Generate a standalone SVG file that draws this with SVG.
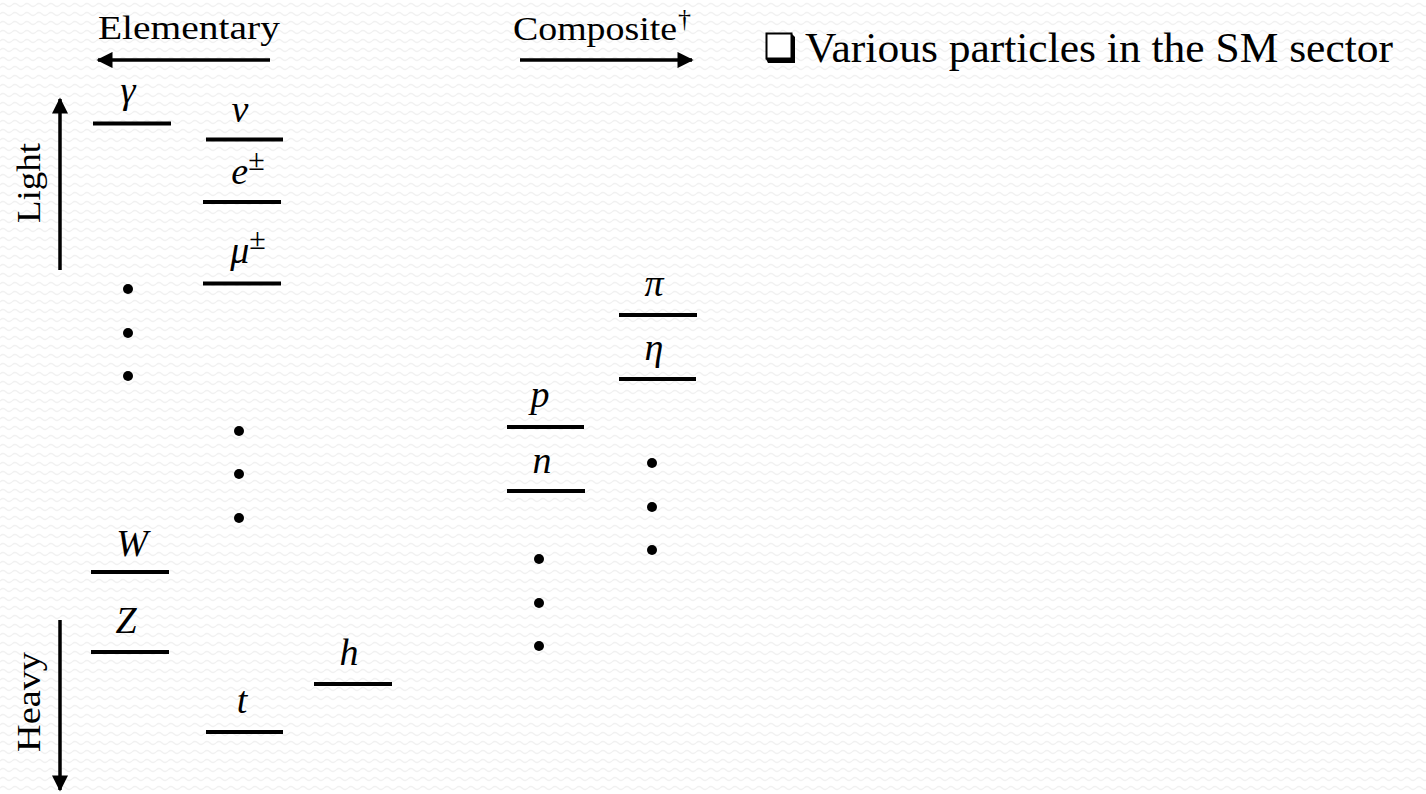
<svg xmlns="http://www.w3.org/2000/svg" width="1426" height="794" viewBox="0 0 1426 794">
<style>
.lbl{font-family:"Liberation Serif",serif;fill:#000}
.m{font-family:"Liberation Serif","DejaVu Serif",serif;font-style:italic;font-size:38px;fill:#000;text-anchor:middle}
.lvl{stroke:#000;stroke-width:4}
.ax{stroke:#000;stroke-width:3.5;fill:none}
</style>
<defs>
<pattern id="bg" width="12" height="9" patternUnits="userSpaceOnUse">
<rect width="12" height="9" fill="#ffffff"/>
<path d="M0 5 Q3 2 6 5 T12 5" fill="none" stroke="#f1f1f1" stroke-width="1.2"/>
</pattern>
<marker id="ah" viewBox="0 0 10 10" refX="9" refY="5" markerWidth="5" markerHeight="4.6" markerUnits="strokeWidth" orient="auto">
<path d="M0 0 L10 5 L0 10 Z" fill="#000"/>
</marker>
</defs>
<rect width="1426" height="794" fill="url(#bg)"/>

<g id="axes">
<g id="elementary">
<text class="lbl" x="98" y="39" font-size="34" textLength="182" lengthAdjust="spacingAndGlyphs">Elementary</text>
<line class="ax" x1="270" y1="60" x2="98" y2="60" marker-end="url(#ah)"/>
</g>
<g id="composite">
<text class="lbl" x="513" y="40" font-size="34" textLength="164" lengthAdjust="spacingAndGlyphs">Composite</text>
<text class="lbl" x="678" y="27" font-size="26">†</text>
<line class="ax" x1="520" y1="60" x2="692" y2="60" marker-end="url(#ah)"/>
</g>
<g id="light">
<text class="lbl" transform="translate(40,223) rotate(-90)" font-size="34" textLength="80" lengthAdjust="spacingAndGlyphs">Light</text>
<line class="ax" x1="60" y1="270" x2="60" y2="99" marker-end="url(#ah)"/>
</g>
<g id="heavy">
<text class="lbl" transform="translate(40,752) rotate(-90)" font-size="34" textLength="100" lengthAdjust="spacingAndGlyphs">Heavy</text>
<line class="ax" x1="60" y1="620" x2="60" y2="790" marker-end="url(#ah)"/>
</g>
</g>

<g id="title">
<rect x="766.5" y="33.5" width="25" height="25" fill="#fff" stroke="#000" stroke-width="2"/>
<path d="M766 59 L768 63 L795 63 L795 37 L791 33 L791 59 Z" fill="#000"/>
<text class="lbl" x="805" y="62" font-size="42" textLength="588" lengthAdjust="spacingAndGlyphs">Various particles in the SM sector</text>
</g>

<g id="gamma"><line class="lvl" x1="93" y1="123.5" x2="171" y2="123.5"/><text class="m" x="128" y="103">γ</text></g>
<g id="nu"><line class="lvl" x1="206" y1="139.5" x2="283" y2="139.5"/><text class="m" x="240" y="122">ν</text></g>
<g id="electron"><line class="lvl" x1="203" y1="202" x2="281" y2="202"/><text class="m" x="248" y="184">e<tspan font-style="normal" font-size="30" dy="-14">±</tspan></text></g>
<g id="muon"><line class="lvl" x1="203" y1="283.5" x2="281" y2="283.5"/><text class="m" x="248" y="263">μ<tspan font-style="normal" font-size="30" dy="-14">±</tspan></text></g>
<g id="W"><line class="lvl" x1="91" y1="572" x2="169" y2="572"/><text class="m" x="132" y="556">W</text></g>
<g id="Z"><line class="lvl" x1="91" y1="652" x2="169" y2="652"/><text class="m" x="126" y="633">Z</text></g>
<g id="h"><line class="lvl" x1="314" y1="684" x2="392" y2="684"/><text class="m" x="349" y="665">h</text></g>
<g id="t"><line class="lvl" x1="206" y1="732" x2="283" y2="732"/><text class="m" x="242" y="713">t</text></g>
<g id="pi"><line class="lvl" x1="619" y1="315" x2="697" y2="315"/><text class="m" x="654" y="296">π</text></g>
<g id="eta"><line class="lvl" x1="619" y1="379" x2="696" y2="379"/><text class="m" x="654" y="360">η</text></g>
<g id="p"><line class="lvl" x1="507" y1="427" x2="584" y2="427"/><text class="m" x="540" y="407">p</text></g>
<g id="n"><line class="lvl" x1="507" y1="491" x2="585" y2="491"/><text class="m" x="542" y="473">n</text></g>

<g id="dots" fill="#000">
<circle cx="128" cy="289" r="5"/><circle cx="128" cy="333" r="5"/><circle cx="128" cy="376" r="5"/>
<circle cx="239" cy="431" r="5"/><circle cx="239" cy="474" r="5"/><circle cx="239" cy="518" r="5"/>
<circle cx="652" cy="463" r="5"/><circle cx="652" cy="507" r="5"/><circle cx="652" cy="550" r="5"/>
<circle cx="539" cy="559" r="5"/><circle cx="539" cy="603" r="5"/><circle cx="539" cy="646" r="5"/>
</g>
</svg>
